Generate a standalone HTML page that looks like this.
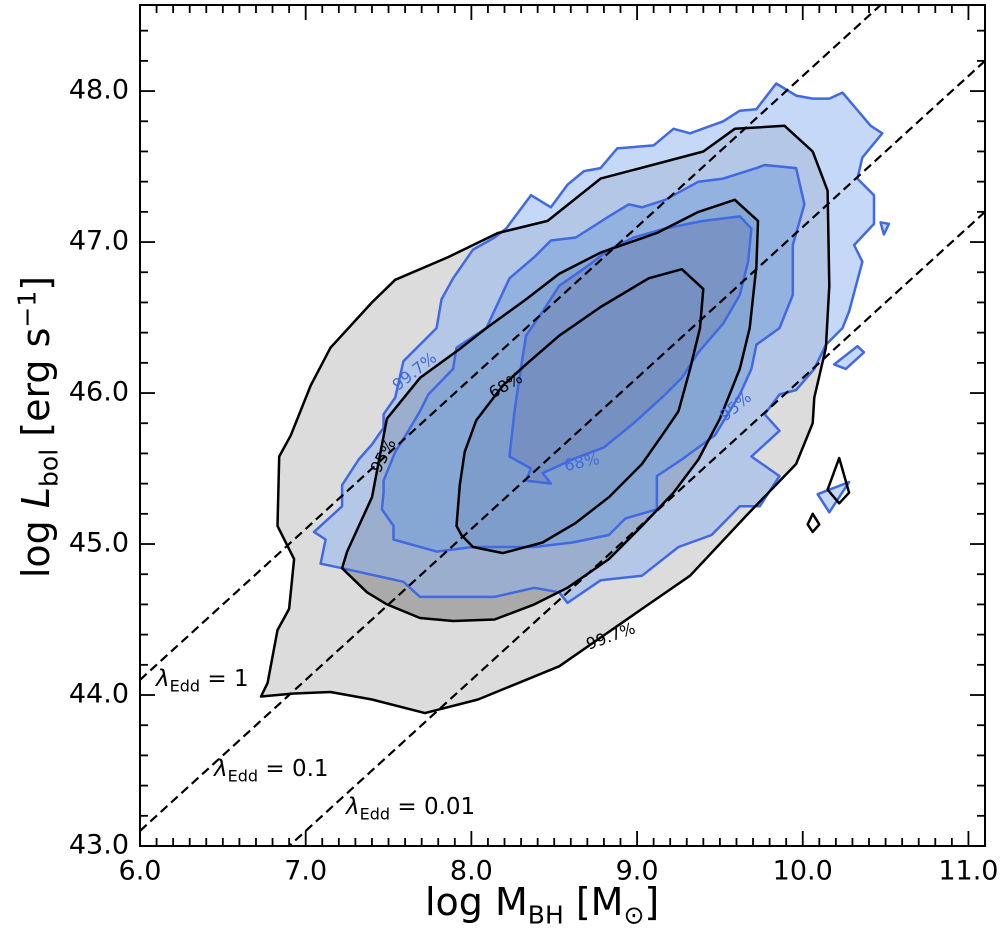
<!DOCTYPE html>
<html><head><meta charset="utf-8"><style>
html,body{margin:0;padding:0;background:#fff;}
svg{display:block;font-family:"DejaVu Sans","Liberation Sans",sans-serif;}
</style></head><body>
<svg id="chart" width="1000" height="940" viewBox="0 0 1000 940" xmlns="http://www.w3.org/2000/svg">
<defs><clipPath id="clip"><rect x="140" y="5" width="845" height="841"/></clipPath></defs>
<g id="plot" clip-path="url(#clip)"></g>
<g id="axes"></g>
</svg>
<script>
const xTicks=[6,7,8,9,10,11];
const xTickLabels=["6.0","7.0","8.0","9.0","10.0","11.0"];
const yTicks=[43,44,45,46,47,48];
const yTickLabels=["43.0","44.0","45.0","46.0","47.0","48.0"];
const eddRatios=[0,-1,-2];
const eddLabels=["1","0.1","0.01"];
const black997=[[6.73,43.99],[6.77,44.08],[6.83,44.43],[6.90,44.57],[6.93,44.90],[6.83,45.12],[6.84,45.58],[6.91,45.72],[7.03,46.05],[7.15,46.30],[7.40,46.60],[7.54,46.75],[7.86,46.90],[8.16,47.06],[8.46,47.14],[8.78,47.42],[9.40,47.60],[9.59,47.75],[9.89,47.77],[10.06,47.60],[10.15,47.34],[10.16,46.71],[10.14,46.30],[10.07,45.97],[10.06,45.80],[9.96,45.53],[9.67,45.20],[9.32,44.79],[9.03,44.57],[8.53,44.19],[8.04,43.97],[7.72,43.88],[7.40,43.97],[7.15,44.02],[6.93,44.01]];
const black95=[[7.22,44.84],[7.25,44.95],[7.40,45.31],[7.49,45.83],[7.69,46.10],[7.94,46.30],[8.09,46.43],[8.33,46.62],[8.53,46.79],[8.78,46.93],[9.12,47.06],[9.37,47.20],[9.59,47.28],[9.73,47.14],[9.72,46.84],[9.68,46.43],[9.62,46.16],[9.50,45.83],[9.37,45.56],[9.22,45.34],[9.03,45.12],[8.83,44.90],[8.58,44.71],[8.38,44.60],[8.14,44.50],[7.89,44.49],[7.69,44.51],[7.49,44.60],[7.37,44.68]];
const black68=[[7.91,45.12],[7.93,45.39],[7.96,45.61],[8.03,45.82],[8.19,46.05],[8.33,46.19],[8.53,46.38],[8.78,46.57],[9.07,46.76],[9.27,46.82],[9.40,46.69],[9.38,46.43],[9.32,46.16],[9.25,45.88],[9.17,45.75],[9.03,45.53],[8.83,45.31],[8.63,45.14],[8.43,45.01],[8.19,44.94],[8.01,44.98],[7.94,45.06]];
const blackIsland1=[[10.22,45.57],[10.28,45.34],[10.22,45.27],[10.15,45.36]];
const blackIsland2=[[10.06,45.20],[10.10,45.13],[10.06,45.08],[10.03,45.13]];
const blue997=[[7.05,45.08],[7.12,45.03],[7.09,44.87],[7.22,44.84],[7.59,44.75],[7.69,44.65],[8.14,44.65],[8.38,44.71],[8.53,44.68],[8.58,44.61],[8.78,44.76],[9.03,44.79],[9.25,44.98],[9.45,45.06],[9.62,45.25],[9.74,45.25],[9.86,45.45],[9.69,45.58],[9.86,45.75],[9.77,45.86],[9.86,45.99],[9.96,46.02],[10.07,46.16],[10.14,46.32],[10.24,46.43],[10.28,46.54],[10.36,46.87],[10.31,46.98],[10.43,47.12],[10.43,47.31],[10.33,47.42],[10.36,47.56],[10.48,47.72],[10.41,47.77],[10.24,47.99],[10.16,47.95],[10.06,47.95],[9.96,47.97],[9.84,48.05],[9.72,47.88],[9.62,47.87],[9.52,47.80],[9.32,47.72],[9.22,47.75],[9.10,47.64],[8.88,47.62],[8.78,47.49],[8.68,47.47],[8.58,47.38],[8.48,47.23],[8.36,47.31],[8.21,47.09],[8.14,47.03],[8.01,46.95],[7.89,46.76],[7.82,46.62],[7.79,46.43],[7.59,46.21],[7.54,45.97],[7.47,45.86],[7.47,45.77],[7.40,45.66],[7.32,45.56],[7.22,45.39],[7.22,45.25]];
const blueIsland1=[[10.19,46.19],[10.33,46.31],[10.37,46.27],[10.26,46.16]];
const blueIsland2=[[10.09,45.33],[10.28,45.41],[10.16,45.21]];
const blueIsland3=[[10.47,47.13],[10.52,47.12],[10.49,47.05]];
const blue95=[[7.47,45.34],[7.46,45.23],[7.53,45.12],[7.53,45.03],[7.79,44.95],[8.01,44.98],[8.38,44.98],[8.61,45.01],[8.83,45.06],[8.93,45.17],[9.12,45.23],[9.12,45.45],[9.27,45.56],[9.47,45.72],[9.62,45.99],[9.69,46.16],[9.72,46.32],[9.86,46.43],[9.94,46.65],[9.94,46.98],[10.01,47.25],[9.96,47.49],[9.77,47.51],[9.72,47.49],[9.52,47.42],[9.37,47.40],[9.17,47.28],[9.03,47.23],[8.95,47.25],[8.83,47.17],[8.63,47.03],[8.48,47.01],[8.38,46.90],[8.23,46.76],[8.09,46.43],[7.91,46.30],[7.89,46.16],[7.74,45.99],[7.69,45.88],[7.62,45.75],[7.54,45.61],[7.47,45.42]];
const blue68=[[8.23,45.58],[8.36,45.50],[8.33,45.42],[8.48,45.40],[8.43,45.47],[8.63,45.57],[8.80,45.64],[8.98,45.80],[9.17,45.99],[9.27,46.10],[9.37,46.27],[9.52,46.46],[9.62,46.65],[9.67,46.87],[9.69,47.09],[9.62,47.17],[9.40,47.14],[9.17,47.09],[8.98,47.03],[8.83,46.95],[8.70,46.84],[8.53,46.71],[8.43,46.54],[8.33,46.38],[8.29,46.10],[8.26,45.88]];

const NS='http://www.w3.org/2000/svg';
const X0=140,X1=985,Y0=846,Y1=5;
const xMin=6,xMax=11.1,yMin=43,yMax=48.57;
function sx(v){return X0+(v-xMin)/(xMax-xMin)*(X1-X0);}
function sy(v){return Y0-(v-yMin)/(yMax-yMin)*(Y0-Y1);}
const plot=document.getElementById('plot'),axes=document.getElementById('axes');
function mk(tag,attrs,parent){const e=document.createElementNS(NS,tag);for(const k in attrs)e.setAttribute(k,attrs[k]);parent.appendChild(e);return e;}
function pts(arr){return arr.map(p=>sx(p[0]).toFixed(1)+','+sy(p[1]).toFixed(1)).join(' ');}
function poly(arr,fill,stroke,name,op){const e=mk('polygon',{points:pts(arr),fill:fill,stroke:stroke,'stroke-width':2.5,'stroke-linejoin':'round','fill-opacity':op},plot);

return e;}
poly(black997,'#dcdcdc','none','ref-fill-997',1);
poly(black95,'#aaaaaa','none','ref-fill-95',1);
poly(black68,'#888888','none','ref-fill-68',1);
const L1='rgb(140,178,240)';
poly(blue997,L1,'none','fill-997',0.5);
poly(blueIsland1,L1,'none','fill-island-1',0.5);
poly(blueIsland2,L1,'none','fill-island-2',0.5);
poly(blueIsland3,L1,'none','fill-island-3',0.5);
poly(blue95,'rgb(113,158,217)','none','fill-95',0.5);
poly(blue68,'rgb(105,124,177)','none','fill-68',0.4);
[blue997,blue95,blue68,blueIsland1,blueIsland2,blueIsland3].forEach((a,i)=>{poly(a,'none','#4169e1','blue-contour-'+i,0);});
[black997,black95,black68,blackIsland1,blackIsland2].forEach((a,i)=>{poly(a,'none','#000','black-contour-'+i,0);});
eddRatios.forEach((r,i)=>{const c=38.1+r;
const l=mk('line',{x1:sx(xMin),y1:sy(xMin+c),x2:sx(xMax),y2:sy(xMax+c),stroke:'#000','stroke-width':2.2,'stroke-dasharray':'9,5'},plot);

});
const labs=[[415,372,-38,'99.7%','#4169e1'],[384,456,-62,'95%','#000'],[506,386,-30,'68%','#000'],[582,463,-12,'68%','#4169e1'],[736,407,-40,'95%','#4169e1'],[611,637,-20,'99.7%','#000']];
labs.forEach((L,i)=>{const t=mk('text',{x:L[0],y:L[1],fill:L[4],'font-size':16,'text-anchor':'middle','dominant-baseline':'middle',transform:`rotate(${L[2]} ${L[0]} ${L[1]})`},plot);t.textContent=L[3];

});
const fr=mk('rect',{x:X0,y:Y1,width:X1-X0,height:Y0-Y1,fill:'none',stroke:'#000','stroke-width':2},axes);


for(let k=60;k<=111;k++){const v=k/10;const maj=k%10===0;const L=maj?15:8;const x=sx(v);
mk('line',{x1:x,y1:Y0,x2:x,y2:Y0-L,stroke:'#000','stroke-width':1.8},axes);
mk('line',{x1:x,y1:Y1,x2:x,y2:Y1+L,stroke:'#000','stroke-width':1.8},axes);}
for(let k=215;k<=242;k++){const v=k/5;const maj=k%5===0;const L=maj?15:8;const y=sy(v);
mk('line',{x1:X0,y1:y,x2:X0+L,y2:y,stroke:'#000','stroke-width':1.8},axes);
mk('line',{x1:X1,y1:y,x2:X1-L,y2:y,stroke:'#000','stroke-width':1.8},axes);}
xTicks.forEach((v,i)=>{const t=mk('text',{x:sx(v),y:872,'font-size':27,'text-anchor':'middle','dominant-baseline':'middle'},axes);t.textContent=xTickLabels[i];

});
yTicks.forEach((v,i)=>{const t=mk('text',{x:129,y:sy(v),'font-size':27,'text-anchor':'end','dominant-baseline':'middle'},axes);t.textContent=yTickLabels[i];

});
</script>
<div style="position:absolute;left:0;top:0;width:1000px;height:940px;pointer-events:none;font-family:'DejaVu Sans','Liberation Sans',sans-serif;">
<div style="position:absolute;left:425px;top:880px;font-size:38px;white-space:nowrap;">log M<sub style="font-size:25px">BH</sub> [M<sub style="font-size:25px">⊙</sub>]</div>
<div style="position:absolute;left:38px;top:427px;font-size:38px;white-space:nowrap;transform:translate(-50%,-50%) rotate(-90deg);">log <i>L</i><sub style="font-size:25px">bol</sub> [erg s<sup style="font-size:25px">−1</sup>]</div>
<div style="position:absolute;left:156px;top:666px;font-size:23px;white-space:nowrap;"><i>λ</i><sub style="font-size:16px">Edd</sub> = 1</div>
<div style="position:absolute;left:214px;top:756px;font-size:23px;white-space:nowrap;"><i>λ</i><sub style="font-size:16px">Edd</sub> = 0.1</div>
<div style="position:absolute;left:346px;top:794px;font-size:23px;white-space:nowrap;"><i>λ</i><sub style="font-size:16px">Edd</sub> = 0.01</div>
</div>
</body></html>
